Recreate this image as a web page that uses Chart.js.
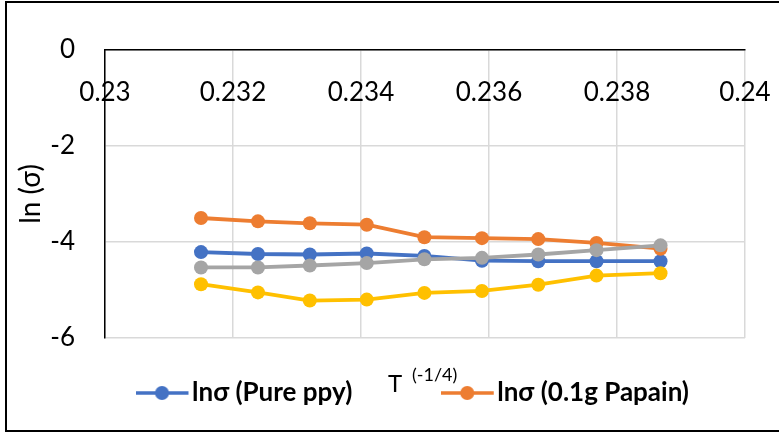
<!DOCTYPE html>
<html>
<head>
<meta charset="utf-8">
<script src="https://cdn.jsdelivr.net/npm/chart.js@4.4.0/dist/chart.umd.min.js"></script>
<style>
  html, body { margin: 0; padding: 0; background: #fff; overflow: hidden; }
  #frame { position: absolute; left: 5px; top: 1px; width: 780px; height: 431px; border: 2px solid #000; box-sizing: border-box; }
  canvas { display: block; }
</style>
</head>
<body>
<div id="frame"><canvas id="Chart" width="776" height="427"></canvas></div>
<script>
// T^(-1/4) values
const tQuarter = [0.2315, 0.23239, 0.2332, 0.23409, 0.23499, 0.23589, 0.23677, 0.23768, 0.23868];

// ln(sigma) for each sample
const purePpy    = [-4.21, -4.25, -4.26, -4.24, -4.29, -4.39, -4.40, -4.40, -4.40];
const papain01   = [-3.50, -3.57, -3.61, -3.64, -3.90, -3.92, -3.94, -4.02, -4.14];
const series3    = [-4.53, -4.53, -4.49, -4.44, -4.36, -4.33, -4.26, -4.17, -4.07];
const series4    = [-4.88, -5.05, -5.22, -5.20, -5.06, -5.02, -4.89, -4.70, -4.65];

const seriesNames  = ['lnσ (Pure ppy)', 'lnσ (0.1g Papain)', 'lnσ (series 3)', 'lnσ (series 4)'];
const seriesColors = ['#4472C4', '#ED7D31', '#A5A5A5', '#FFC000'];
const seriesData   = [purePpy, papain01, series3, series4];
// Excel draws later series on top
const drawOrder    = [3, 2, 1, 0];

// only the first two series show in the legend
const legendCount = 2;
const legendGap = ['\u2003\u2003\u00a0\u00a0\u00a0', ''];

const xTicks = { min: 0.23, max: 0.24, step: 0.002 };
const yTicks = { min: -6, max: 0, step: 2 };

function markerImage(color) {
    const c = document.createElement('canvas');
    c.width = 55;
    c.height = 16;
    const g = c.getContext('2d');
    g.strokeStyle = color;
    g.lineWidth = 3.5;
    g.beginPath();
    g.moveTo(0, 8);
    g.lineTo(53, 8);
    g.stroke();
    g.fillStyle = color;
    g.beginPath();
    g.arc(26.5, 8, 7, 0, Math.PI * 2);
    g.fill();
    return c;
}

const xTitle = {
    id: 'xTitle',
    afterDraw(chart) {
        const ctx = chart.ctx;
        ctx.save();
        ctx.fillStyle = '#000';
        ctx.textBaseline = 'alphabetic';
        ctx.font = '24px Lato';
        ctx.fillText('T', 381, 389);
        ctx.font = '18px Lato';
        ctx.fillText('(-1/4)', 405, 378);
        ctx.restore();
    }
};

const ctx = document.getElementById('Chart').getContext('2d');
const myChart = new Chart(ctx, {
    type: 'line',
    data: {
        datasets: seriesData.map((vals, i) => ({
            label: seriesNames[i],
            data: vals.map((v, j) => ({ x: tQuarter[j], y: v })),
            borderColor: seriesColors[i],
            backgroundColor: seriesColors[i],
            pointBackgroundColor: seriesColors[i],
            pointBorderColor: seriesColors[i],
            borderWidth: 3.8,
            pointRadius: 7,
            pointHoverRadius: 7,
            pointBorderWidth: 0,
            tension: 0,
            fill: false,
            order: drawOrder[i]
        }))
    },
    options: {
        responsive: false,
        animation: false,
        layout: { padding: { left: 0, right: 38, top: 37, bottom: 14 } },
        scales: {
            x: {
                type: 'linear',
                position: 'top',
                min: xTicks.min,
                max: xTicks.max,
                afterFit(s) { s.height = 10; s.paddingLeft = 0; s.paddingRight = 0; },
                grid: { color: '#d9d9d9', lineWidth: 1.5, drawTicks: false },
                border: { color: '#000', width: 1.5 },
                ticks: {
                    stepSize: xTicks.step,
                    mirror: true,
                    padding: 27,
                    maxRotation: 0,
                    color: '#000',
                    font: { family: 'Lato', size: 26 },
                    callback: v => String(parseFloat(v.toFixed(3)))
                }
            },
            y: {
                min: yTicks.min,
                max: yTicks.max,
                afterFit(s) { s.width = 98; s.paddingTop = 0; s.paddingBottom = 0; },
                grid: { color: '#d9d9d9', lineWidth: 1.5, drawTicks: false },
                border: { color: '#000', width: 1.5 },
                ticks: {
                    stepSize: yTicks.step,
                    padding: 30,
                    color: '#000',
                    font: { family: 'Lato', size: 26 }
                },
                title: {
                    display: true,
                    text: 'ln (σ)',
                    color: '#000',
                    font: { family: 'Lato', size: 28 },
                    padding: { top: 7, bottom: 0 }
                }
            }
        },
        plugins: {
            tooltip: { enabled: false },
            legend: {
                position: 'bottom',
                align: 'start',
                fullSize: false,
                labels: {
                    usePointStyle: true,
                    pointStyleWidth: 32,
                    padding: 42,
                    color: '#000',
                    font: { family: 'Lato', size: 26, weight: 'bold' },
                    generateLabels: () => seriesNames.slice(0, legendCount).map((name, i) => ({
                        text: name + legendGap[i],
                        fillStyle: seriesColors[i],
                        strokeStyle: seriesColors[i],
                        lineWidth: 0,
                        pointStyle: markerImage(seriesColors[i]),
                        hidden: false,
                        datasetIndex: i
                    }))
                }
            }
        }
    },
    plugins: [xTitle]
});
</script>
</body>
</html>
